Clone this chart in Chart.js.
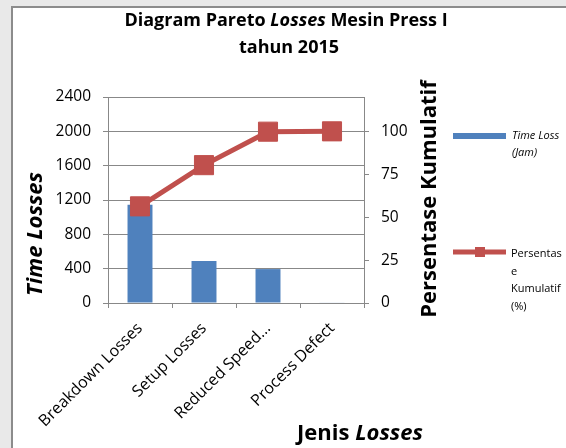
<!DOCTYPE html>
<html>
<head>
<meta charset="utf-8">
<script src="https://cdn.jsdelivr.net/npm/chart.js@4.4.1/dist/chart.umd.min.js"></script>
<style>
  html, body { margin: 0; padding: 0; background: #e9e9e9; }
  #wrap { width: 566px; height: 448px; }
</style>
</head>
<body>
<div id="wrap"><canvas id="pareto" width="566" height="448"></canvas></div>
<script>
// data
const categories = ['Breakdown Losses', 'Setup Losses', 'Reduced Speed...', 'Process Defect'];
const timeLoss = [1145, 490, 395, 5];
const kumulatif = [56.3, 80.3, 99.8, 100];
const leftTicks = [0, 400, 800, 1200, 1600, 2000, 2400];
const rightTicks = [0, 25, 50, 75, 100];
const legendBarLines = ['Time Loss', '(Jam)'];
const legendLineLines = ['Persentas', 'e', 'Kumulatif', '(%)'];

const FONT = '"Open Sans", sans-serif';
const BLUE = '#4F81BD';
const RED = '#C0504D';
const GRID = '#888888';

// draw text made of pieces with different styles, centred on x
function drawRuns(ctx, runs, x, y, size) {
    let total = 0;
    runs.forEach(r => {
        ctx.font = `${r[1]} ${size}px ${FONT}`;
        total += ctx.measureText(r[0]).width;
    });
    let cx = x - total / 2;
    ctx.textAlign = 'left';
    runs.forEach(r => {
        ctx.font = `${r[1]} ${size}px ${FONT}`;
        ctx.fillText(r[0], cx, y);
        cx += ctx.measureText(r[0]).width;
    });
}

const decor = {
    id: 'decor',
    beforeDraw(chart) {
        const ctx = chart.ctx;
        ctx.save();
        ctx.fillStyle = '#e9e9e9';
        ctx.fillRect(0, 0, 566, 448);
        ctx.fillStyle = '#ffffff';
        ctx.fillRect(13, 8, 553, 440);
        ctx.fillStyle = '#8c8c8c';
        ctx.fillRect(11, 6, 2, 442);
        ctx.fillRect(11, 6, 555, 2);
        ctx.restore();
    },
    afterDraw(chart) {
        const ctx = chart.ctx;
        ctx.save();
        ctx.fillStyle = '#000';
        ctx.textBaseline = 'alphabetic';

        // chart title
        drawRuns(ctx, [['Diagram Pareto ', 'bold'], ['Losses', 'italic bold'], [' Mesin Press I', 'bold']], 286, 26, 18);
        drawRuns(ctx, [['tahun 2015', 'bold']], 289, 53, 18);

        // x axis title
        drawRuns(ctx, [['Jenis ', 'bold'], ['Losses', 'italic bold']], 360, 440, 22);

        // left axis title
        ctx.save();
        ctx.translate(42, 234);
        ctx.rotate(-Math.PI / 2);
        drawRuns(ctx, [['Time Losses', 'italic bold']], 0, 0, 22);
        ctx.restore();

        // right axis title
        ctx.save();
        ctx.translate(436, 199);
        ctx.rotate(-Math.PI / 2);
        drawRuns(ctx, [['Persentase Kumulatif', 'bold']], 0, 0, 22);
        ctx.restore();

        // legend
        ctx.fillStyle = BLUE;
        ctx.fillRect(453, 133, 53, 6);
        ctx.fillStyle = '#000';
        ctx.textAlign = 'left';
        ctx.font = `italic 11px ${FONT}`;
        legendBarLines.forEach((t, i) => ctx.fillText(t, 512, 139 + i * 17));

        ctx.strokeStyle = RED;
        ctx.lineWidth = 5;
        ctx.beginPath();
        ctx.moveTo(453, 252);
        ctx.lineTo(506, 252);
        ctx.stroke();
        ctx.fillStyle = RED;
        ctx.fillRect(475, 247, 10, 10);
        ctx.fillStyle = '#000';
        ctx.font = `11px ${FONT}`;
        legendLineLines.forEach((t, i) => ctx.fillText(t, 511, 257 + i * 17.5));
        ctx.restore();
    }
};

new Chart(document.getElementById('pareto'), {
    type: 'bar',
    data: {
        labels: categories,
        datasets: [
            {
                type: 'line',
                label: 'Persentase Kumulatif (%)',
                data: kumulatif,
                yAxisID: 'y1',
                borderColor: RED,
                backgroundColor: RED,
                borderWidth: 5,
                pointStyle: 'rect',
                pointRadius: 13.5,
                pointBorderWidth: 1,
                pointBackgroundColor: RED,
                pointBorderColor: RED,
                tension: 0,
                order: 0
            },
            {
                label: 'Time Loss (Jam)',
                data: timeLoss,
                yAxisID: 'y',
                backgroundColor: BLUE,
                barPercentage: 0.39,
                categoryPercentage: 1,
                order: 1
            }
        ]
    },
    options: {
        responsive: false,
        animation: false,
        layout: { padding: { top: 97, left: 0, right: 0, bottom: 0 } },
        plugins: {
            legend: { display: false },
            title: { display: false },
            tooltip: { enabled: false }
        },
        scales: {
            x: {
                offset: true,
                grid: { display: true, drawOnChartArea: false, offset: true, color: GRID, tickLength: 5 },
                border: { display: true, color: GRID },
                ticks: {
                    color: '#000',
                    font: { family: FONT, size: 16 },
                    minRotation: 45,
                    maxRotation: 45,
                    padding: 11
                },
                afterFit(scale) { scale.height = 145; }
            },
            y: {
                position: 'left',
                min: 0,
                max: 2400,
                afterBuildTicks(scale) { scale.ticks = leftTicks.map(v => ({ value: v })); },
                grid: { color: GRID, tickLength: 5 },
                border: { display: true, color: GRID },
                ticks: { color: '#000', font: { family: FONT, size: 15.5 }, padding: 12, callback: v => String(v) },
                afterFit(scale) { scale.width = 108; }
            },
            y1: {
                position: 'right',
                min: 0,
                max: 120,
                afterBuildTicks(scale) { scale.ticks = rightTicks.map(v => ({ value: v })); },
                grid: { drawOnChartArea: false, color: GRID, tickLength: 5 },
                border: { display: true, color: GRID },
                ticks: { color: '#000', font: { family: FONT, size: 15.5 }, padding: 12, callback: v => String(v) },
                afterFit(scale) { scale.width = 202; }
            }
        }
    },
    plugins: [decor]
});
</script>
</body>
</html>
